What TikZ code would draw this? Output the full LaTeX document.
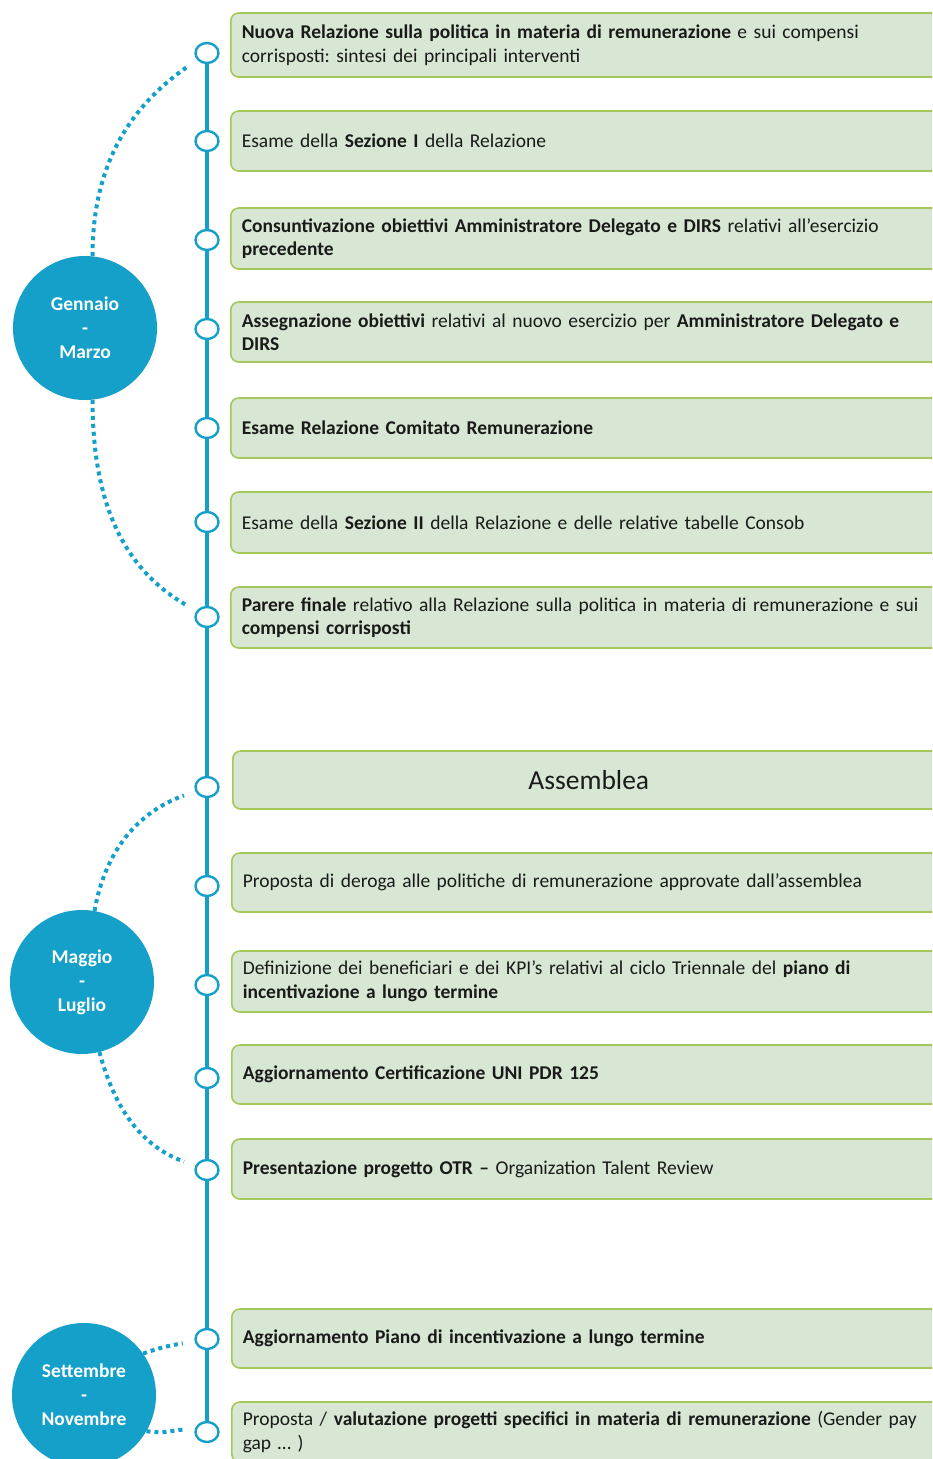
\documentclass[tikz,border=0pt]{standalone}
\usepackage{fontspec}
\setmainfont{Carlito}
\usetikzlibrary{shapes.geometric}
\definecolor{blu}{HTML}{14A0C8}
\definecolor{verdino}{HTML}{D8E7D3}
\definecolor{verde}{HTML}{A5C85A}
\definecolor{testo}{HTML}{1A1A1A}
\tikzset{
  evento/.style={draw=verde, line width=1.6pt, fill=verdino, rounded corners=8pt, anchor=west,
    minimum width=712pt, text width=700pt, inner xsep=11pt, align=left,
    font=\frenchspacing\fontsize{19.5}{23.5}\selectfont, text=testo},
  tappa/.style={ellipse, draw=blu, line width=2.4pt, fill=white, minimum width=23pt, minimum height=20pt, inner sep=0pt},
  periodo/.style={circle, fill=blu, minimum size=144pt, text=white, align=center,
    font=\bfseries\fontsize{19.5}{24}\selectfont},
  legame/.style={blu, line width=4pt, dash pattern=on 4pt off 4pt, shorten >=12pt}
}
\begin{document}
\begin{tikzpicture}[x=1pt, y=-1pt]
    \useasboundingbox (0,0) rectangle (932,1459);
    \clip (0,0) rectangle (932,1459);

    % Riquadri degli eventi
    \node[evento, minimum height=64pt] (b1) at (230,45) {\textbf{Nuova Relazione sulla politica in materia di remunerazione} e sui compensi\\ corrisposti: sintesi dei principali interventi};
    \node[evento, minimum height=60pt] (b2) at (230,141) {Esame della \textbf{Sezione I} della Relazione};
    \node[evento, minimum height=61pt] (b3) at (230,238.5) {\textbf{Consuntivazione obiettivi Amministratore Delegato e DIRS} relativi all’esercizio\\ \textbf{precedente}};
    \node[evento, minimum height=60pt] (b4) at (230,332) {\textbf{Assegnazione obiettivi} relativi al nuovo esercizio per \textbf{Amministratore Delegato e}\\ \textbf{DIRS}};
    \node[evento, minimum height=60pt] (b5) at (230,428) {\textbf{Esame Relazione Comitato Remunerazione}};
    \node[evento, minimum height=61pt] (b6) at (230,522.5) {Esame della \textbf{Sezione II} della Relazione e delle relative tabelle Consob};
    \node[evento, minimum height=61pt] (b7) at (230,617.5) {\textbf{Parere finale} relativo alla Relazione sulla politica in materia di remunerazione e sui\\ \textbf{compensi corrisposti}};
    \node[evento, minimum height=58pt, text width=686pt, align=center, font=\fontsize{27.5}{30}\selectfont] (b8) at (232,780) {Assemblea};
    \node[evento, minimum height=59pt] (b9) at (231,882.5) {Proposta di deroga alle politiche di remunerazione approvate dall’assemblea};
    \node[evento, minimum height=61pt] (b10) at (231,981.5) {Definizione dei beneficiari e dei KPI’s relativi al ciclo Triennale del \textbf{piano di}\\ \textbf{incentivazione a lungo termine}};
    \node[evento, minimum height=59pt] (b11) at (231,1074.5) {\textbf{Aggiornamento Certificazione UNI PDR 125}};
    \node[evento, minimum height=60pt] (b12) at (231,1169) {\textbf{Presentazione progetto OTR –} Organization Talent Review};
    \node[evento, minimum height=59pt] (b13) at (231,1338.5) {\textbf{Aggiornamento Piano di incentivazione a lungo termine}};
    \node[evento, minimum height=60pt] (b14) at (231,1432) {Proposta / \textbf{valutazione progetti specifici in materia di remunerazione} (Gender pay\\ gap … )};

    % Tappe sulla linea del tempo
    \foreach \n/\y in {1/53, 2/141, 3/240, 4/329, 5/428, 6/522, 7/617, 8/787, 9/886, 10/985, 11/1078, 12/1170, 13/1339, 14/1432}
        \node[tappa] (t\n) at (207,\y) {};
    \foreach \a/\b in {1/2, 2/3, 3/4, 4/5, 5/6, 6/7, 7/8, 8/9, 9/10, 10/11, 11/12, 12/13, 13/14}
        \draw[blu, line width=4pt] (t\a.south) -- (t\b.north);

    % Periodi
    \node[periodo] (m1) at (85,328) {Gennaio\\-\\Marzo};
    \node[periodo] (m2) at (82,982) {Maggio\\-\\Luglio};
    \node[periodo] (m3) at (84,1395) {Settembre\\-\\Novembre};

    % Collegamenti tratteggiati
    \draw[legame] (m1.84) to[out=90, in=215] (t1);
    \draw[legame] (m1.-84) to[out=-90, in=150] (t7);
    \draw[legame] (m2.80) to[out=80, in=200] (t8);
    \draw[legame] (m2.-76) to[out=-75, in=160] (t12);
    \draw[legame] (m3.35) to[out=20, in=190] (t13);
    \draw[legame] (m3.-30) to[out=-10, in=175] (t14);
\end{tikzpicture}
\end{document}
